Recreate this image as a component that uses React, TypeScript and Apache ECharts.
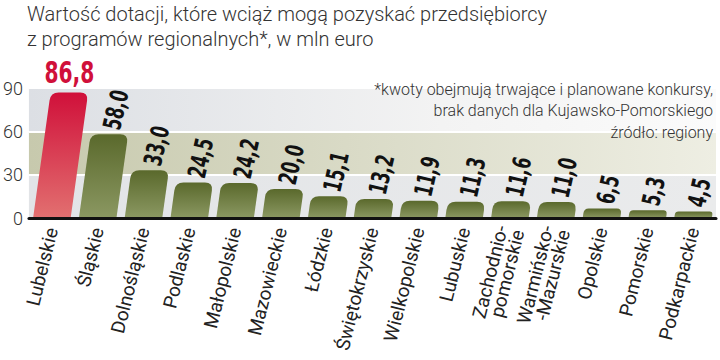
import React, { useEffect, useRef } from "react";
import * as echarts from "echarts";

const categories = [
  "Lubelskie",
  "Śląskie",
  "Dolnośląskie",
  "Podlaskie",
  "Małopolskie",
  "Mazowieckie",
  "Łódzkie",
  "Świętokrzyskie",
  "Wielkopolskie",
  "Lubuskie",
  "Zachodnio-\npomorskie",
  "Warmińsko-\n-Mazurskie",
  "Opolskie",
  "Pomorskie",
  "Podkarpackie",
];
const values = [86.8, 58.0, 33.0, 24.5, 24.2, 20.0, 15.1, 13.2, 11.9, 11.3, 11.6, 11.0, 6.5, 5.3, 4.5];
const valueLabels = ["86,8", "58,0", "33,0", "24,5", "24,2", "20,0", "15,1", "13,2", "11,9", "11,3", "11,6", "11,0", "6,5", "5,3", "4,5"];
const yTicks = [0, 30, 60, 90];
const titleLines = [
  "Wartość dotacji, które wciąż mogą pozyskać przedsiębiorcy",
  "z programów regionalnych*, w mln euro",
];
const noteLines = [
  "*kwoty obejmują trwające i planowane konkursy,",
  "brak danych dla Kujawsko-Pomorskiego",
  "źródło: regiony",
];

const SKEW = 0.14;
const LIGHT = "Roboto, 'Open Sans', sans-serif";
const COND = "'Liberation Sans Narrow', 'DejaVu Sans Condensed', 'Roboto Condensed', sans-serif";

export default function App() {
  const ref = useRef<HTMLDivElement>(null);
  useEffect(() => {
    if (!ref.current) return;
    const chart = echarts.init(ref.current, null, { renderer: "svg" });
    const G = echarts.graphic;
    const redGrad = () =>
      new G.LinearGradient(0, 0, 0, 1, [
        { offset: 0, color: "#d0103a" },
        { offset: 1, color: "#e27070" },
      ]);
    const greenGrad = () =>
      new G.LinearGradient(0, 0, 0, 1, [
        { offset: 0, color: "#5a692c" },
        { offset: 1, color: "#8b9862" },
      ]);

    const renderItem = (params: any, api: any) => {
      const idx = api.value(0);
      const v = api.value(1);
      const base = api.coord([idx, 0]);
      const top = api.coord([idx, v]);
      const w = api.size([1, 0])[0] * 0.82;
      const h = base[1] - top[1];
      const s = h * SKEW;
      const x0 = base[0] - w / 2;
      const x1 = base[0] + w / 2;
      const tx0 = x0 + s;
      const tx1 = x1 + s;
      const ty = top[1];
      const by = base[1];
      const r = Math.min(8, h / 2, w / 2);
      const d =
        `M${x0},${by} L${tx0 - r * SKEW},${ty + r} Q${tx0},${ty} ${tx0 + r},${ty} ` +
        `L${tx1 - r},${ty} Q${tx1},${ty} ${tx1 - r * SKEW},${ty + r} L${x1},${by} Z`;
      const isFirst = idx === 0;
      const cxTop = base[0] + s;
      const text = isFirst
        ? {
            type: "text",
            x: cxTop,
            y: ty - 5,
            scaleX: 0.75,
            style: {
              text: valueLabels[idx],
              fill: "#d0103a",
              fontSize: 30,
              fontWeight: "bold",
              fontFamily: COND,
              align: "center",
              verticalAlign: "bottom",
            },
          }
        : {
            type: "text",
            x: cxTop + 2,
            y: ty - 5,
            rotation: (77 * Math.PI) / 180,
            scaleX: 0.72,
            style: {
              text: valueLabels[idx],
              fill: "#111",
              fontSize: 25,
              fontWeight: "bold",
              fontFamily: COND,
              align: "left",
              verticalAlign: "middle",
            },
          };
      return {
        type: "group",
        children: [
          { type: "path", shape: { pathData: d }, style: { fill: isFirst ? redGrad() : greenGrad() } },
          text,
        ],
      };
    };

    const option: any = {
      animation: false,
      backgroundColor: "#ffffff",
      grid: { left: 24, right: 4, top: 88, bottom: 142, containLabel: false },
      xAxis: {
        type: "category",
        data: categories,
        z: 10,
        axisTick: { show: false },
        axisLine: { show: true, lineStyle: { color: "#111", width: 3 } },
        axisLabel: {
          interval: 0,
          rotate: 76,
          margin: 10,
          fontSize: 19,
          lineHeight: 17,
          color: "#222",
          fontFamily: LIGHT,
        },
        splitLine: { show: false },
      },
      yAxis: {
        type: "value",
        min: yTicks[0],
        max: yTicks[yTicks.length - 1],
        interval: 30,
        axisLine: { show: false },
        axisTick: { show: false },
        axisLabel: { margin: 6, fontSize: 18, color: "#333", fontFamily: LIGHT, fontWeight: 300 },
        splitLine: { show: true, lineStyle: { color: "#ffffff", width: 2 } },
        splitArea: {
          show: true,
          areaStyle: {
            color: [
              new G.LinearGradient(0, 0, 1, 0, [
                { offset: 0, color: "#e2e4e7" },
                { offset: 1, color: "#eaebec" },
              ]),
              new G.LinearGradient(0, 0, 1, 0, [
                { offset: 0, color: "#c7c9ad" },
                { offset: 1, color: "#eeeee3" },
              ]),
              new G.LinearGradient(0, 0, 1, 0, [
                { offset: 0, color: "#dcdfe4" },
                { offset: 0.6, color: "#f3f3f3" },
                { offset: 1, color: "#fbfbfb" },
              ]),
            ],
          },
        },
      },
      graphic: [
        ...titleLines.map((t, i) => ({
          type: "text",
          left: 27,
          top: 4 + i * 25,
          style: { text: t, fill: "#333", fontSize: 20, fontWeight: 300, fontFamily: LIGHT },
        })),
        ...noteLines.map((t, i) => ({
          type: "text",
          right: 7,
          top: 81 + i * 21.5,
          z: 20,
          style: { text: t, fill: "#333", fontSize: 16, fontWeight: 300, fontFamily: LIGHT, align: "right" },
        })),
      ],
      series: [
        {
          type: "custom",
          renderItem,
          clip: false,
          z: 5,
          encode: { x: 0, y: 1 },
          data: values.map((v, i) => [i, v]),
        },
      ],
    };
    chart.setOption(option);
    return () => chart.dispose();
  }, []);
  return <div ref={ref} style={{ position: "fixed", left: 0, top: 0, width: 720, height: 360 }} />;
}
